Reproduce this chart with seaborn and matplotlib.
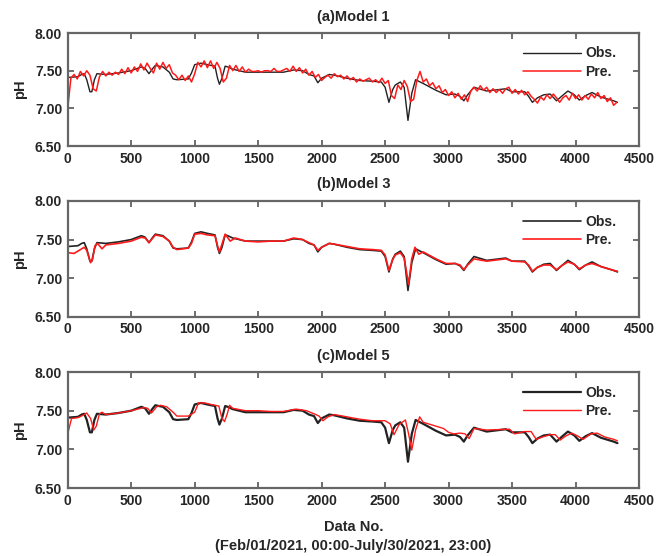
import numpy as np
import pandas as pd
import seaborn as sns
import matplotlib.pyplot as plt
from matplotlib.ticker import FormatStrFormatter

obs_x = [0, 80, 110, 130, 150, 175, 190, 210, 230, 300, 400, 500, 580, 610, 640,
         670, 690, 750, 800, 830, 860, 950, 975, 1000, 1050, 1100, 1160, 1180, 1195, 1215,
         1240, 1260, 1300, 1400, 1500, 1600, 1700, 1780, 1850, 1900, 1940, 1970, 2000, 2060, 2100,
         2200, 2300, 2400, 2470, 2500, 2530, 2560, 2580, 2620, 2650, 2680, 2710, 2740, 2800, 2900,
         2980, 3050, 3090, 3120, 3150, 3200, 3300, 3450, 3500, 3600, 3630, 3660, 3700, 3750, 3800,
         3850, 3890, 3940, 3990, 4030, 4080, 4130, 4200, 4300, 4330]
obs_y = [7.41, 7.42, 7.45, 7.46, 7.38, 7.22, 7.22, 7.38, 7.46, 7.45, 7.47, 7.50, 7.55, 7.53, 7.46,
         7.53, 7.57, 7.55, 7.48, 7.39, 7.38, 7.39, 7.47, 7.58, 7.60, 7.58, 7.56, 7.40, 7.32, 7.40,
         7.56, 7.55, 7.52, 7.48, 7.48, 7.48, 7.48, 7.51, 7.50, 7.45, 7.43, 7.34, 7.40, 7.45, 7.44,
         7.40, 7.37, 7.36, 7.35, 7.28, 7.08, 7.25, 7.31, 7.35, 7.28, 6.84, 7.20, 7.38, 7.33, 7.24,
         7.18, 7.19, 7.16, 7.10, 7.18, 7.28, 7.23, 7.26, 7.22, 7.22, 7.16, 7.08, 7.14, 7.18, 7.19,
         7.10, 7.16, 7.23, 7.18, 7.11, 7.17, 7.21, 7.15, 7.10, 7.08]

# model 1 prediction, one value every 25 data points (noisy)
pre1_x = np.arange(0, 4350, 25)
pre1_y = [7.00, 7.40, 7.45, 7.39, 7.49, 7.43, 7.50, 7.44, 7.26, 7.23,
          7.42, 7.49, 7.43, 7.48, 7.44, 7.48, 7.45, 7.52, 7.46, 7.54,
          7.47, 7.55, 7.49, 7.59, 7.51, 7.60, 7.53, 7.47, 7.60, 7.52,
          7.61, 7.53, 7.58, 7.47, 7.44, 7.38, 7.44, 7.37, 7.43, 7.35,
          7.46, 7.61, 7.55, 7.63, 7.54, 7.63, 7.53, 7.61, 7.53, 7.35,
          7.40, 7.57, 7.50, 7.57, 7.49, 7.55, 7.48, 7.52, 7.49, 7.49,
          7.50, 7.48, 7.50, 7.50, 7.49, 7.53, 7.49, 7.49, 7.51, 7.53,
          7.49, 7.56, 7.49, 7.54, 7.47, 7.52, 7.44, 7.49, 7.41, 7.45,
          7.37, 7.41, 7.44, 7.40, 7.46, 7.42, 7.44, 7.39, 7.43, 7.38,
          7.41, 7.35, 7.39, 7.36, 7.38, 7.40, 7.35, 7.38, 7.34, 7.40,
          7.33, 7.37, 7.17, 7.13, 7.31, 7.25, 7.37, 7.29, 7.09, 7.12,
          7.37, 7.49, 7.35, 7.39, 7.30, 7.34, 7.26, 7.30, 7.21, 7.25,
          7.17, 7.22, 7.14, 7.20, 7.12, 7.18, 7.09, 7.23, 7.28, 7.23,
          7.30, 7.24, 7.28, 7.21, 7.26, 7.21, 7.25, 7.20, 7.26, 7.28,
          7.20, 7.25, 7.19, 7.24, 7.18, 7.22, 7.16, 7.12, 7.07, 7.15,
          7.11, 7.18, 7.13, 7.19, 7.14, 7.08, 7.14, 7.17, 7.11, 7.20,
          7.13, 7.18, 7.11, 7.17, 7.12, 7.19, 7.14, 7.21, 7.13, 7.17,
          7.09, 7.14, 7.04, 7.08]

# model 3 prediction
pre3_x = [0, 50, 100, 130, 150, 180, 195, 215, 235, 270, 300, 400, 500, 580, 610,
          640, 670, 690, 750, 800, 830, 860, 950, 975, 1000, 1050, 1100, 1160, 1180, 1195,
          1215, 1240, 1280, 1320, 1400, 1500, 1600, 1700, 1780, 1850, 1900, 1940, 1970, 2000, 2060,
          2100, 2200, 2300, 2400, 2470, 2500, 2530, 2560, 2580, 2620, 2650, 2685, 2710, 2735, 2765,
          2800, 2900, 2980, 3050, 3090, 3120, 3150, 3200, 3300, 3450, 3500, 3600, 3630, 3660, 3700,
          3750, 3800, 3850, 3890, 3940, 3990, 4030, 4080, 4130, 4200, 4300, 4330]
pre3_y = [7.33, 7.32, 7.37, 7.40, 7.36, 7.20, 7.24, 7.42, 7.45, 7.38, 7.43, 7.45, 7.48, 7.53, 7.52,
          7.46, 7.52, 7.56, 7.54, 7.48, 7.40, 7.37, 7.39, 7.45, 7.57, 7.58, 7.56, 7.55, 7.42, 7.34,
          7.44, 7.57, 7.48, 7.52, 7.48, 7.47, 7.48, 7.48, 7.52, 7.50, 7.46, 7.43, 7.36, 7.40, 7.45,
          7.44, 7.41, 7.38, 7.37, 7.36, 7.30, 7.10, 7.24, 7.30, 7.33, 7.26, 6.92, 7.25, 7.40, 7.31,
          7.34, 7.25, 7.19, 7.19, 7.17, 7.11, 7.17, 7.25, 7.22, 7.25, 7.22, 7.21, 7.17, 7.09, 7.14,
          7.17, 7.17, 7.11, 7.16, 7.21, 7.18, 7.12, 7.17, 7.19, 7.15, 7.10, 7.09]

# model 5 prediction (lags the observation)
pre5_x = [0, 30, 80, 120, 150, 180, 205, 225, 250, 270, 300, 400, 500, 600, 630,
          660, 700, 730, 780, 830, 860, 950, 1000, 1030, 1080, 1130, 1190, 1215, 1235, 1255,
          1275, 1300, 1400, 1500, 1600, 1700, 1800, 1880, 1940, 1980, 2010, 2050, 2100, 2200, 2300,
          2400, 2500, 2540, 2570, 2610, 2660, 2685, 2710, 2740, 2772, 2800, 2900, 2960, 3000, 3040,
          3090, 3130, 3162, 3200, 3300, 3480, 3520, 3600, 3650, 3690, 3740, 3800, 3840, 3880, 3920,
          3970, 4020, 4060, 4120, 4170, 4230, 4300, 4330]
pre5_y = [7.20, 7.40, 7.41, 7.44, 7.47, 7.40, 7.25, 7.30, 7.46, 7.48, 7.45, 7.47, 7.50, 7.54, 7.53,
          7.47, 7.55, 7.57, 7.55, 7.48, 7.43, 7.43, 7.48, 7.60, 7.60, 7.58, 7.56, 7.40, 7.36, 7.45,
          7.57, 7.53, 7.50, 7.50, 7.49, 7.49, 7.52, 7.50, 7.46, 7.43, 7.37, 7.42, 7.45, 7.42, 7.39,
          7.37, 7.37, 7.33, 7.19, 7.32, 7.38, 7.20, 6.99, 7.25, 7.42, 7.35, 7.30, 7.27, 7.22, 7.20,
          7.21, 7.20, 7.14, 7.27, 7.25, 7.26, 7.20, 7.23, 7.23, 7.13, 7.16, 7.19, 7.19, 7.12, 7.17,
          7.21, 7.17, 7.13, 7.20, 7.21, 7.16, 7.13, 7.11]

titles = ['(a)Model 1', '(b)Model 3', '(c)Model 5']
preds = [(pre1_x, pre1_y), (pre3_x, pre3_y), (pre5_x, pre5_y)]

sns.set_style('ticks')
plt.rcParams['font.family'] = ['Liberation Sans', 'DejaVu Sans']
plt.rcParams['font.weight'] = 'bold'
plt.rcParams['axes.labelweight'] = 'bold'
plt.rcParams['axes.titleweight'] = 'bold'

fig = plt.figure(figsize=(6.62, 5.56), dpi=100)
boxes = [[0.1023, 0.7374, 0.863, 0.2032],
         [0.1023, 0.4304, 0.863, 0.2081],
         [0.1023, 0.1223, 0.863, 0.2086]]
obs_lw = [1.0, 1.2, 1.6]
pre_lw = [1.1, 1.2, 1.0]

for i in range(3):
    ax = fig.add_axes(boxes[i])
    sns.lineplot(x=obs_x, y=obs_y, ax=ax, color='#222222', lw=obs_lw[i], label='Obs.')
    px, py = preds[i]
    sns.lineplot(x=px, y=py, ax=ax, color='#ff1a1a', lw=pre_lw[i], label='Pre.')
    ax.set_xlim(0, 4500)
    ax.set_ylim(6.5, 8.0)
    ax.set_xticks(range(0, 4501, 500))
    ax.set_yticks([6.5, 7.0, 7.5, 8.0])
    ax.yaxis.set_major_formatter(FormatStrFormatter('%.2f'))
    ax.tick_params(direction='in', top=True, right=True, length=4, width=1.2,
                   color='#555555', labelsize=10, pad=4)
    for lab in ax.get_xticklabels() + ax.get_yticklabels():
        lab.set_fontweight('bold')
    for s in ax.spines.values():
        s.set_color('#666666')
        s.set_linewidth(1.6)
    ax.set_title(titles[i], fontsize=10.5, fontweight='bold', pad=9)
    ax.set_ylabel('pH', fontsize=10.5, fontweight='bold', labelpad=6)
    ax.set_xlabel('')
    ax.legend(loc='upper right', bbox_to_anchor=(0.975, 0.955), frameon=False,
              handlelength=4.2, handletextpad=0.3, labelspacing=0.3,
              prop={'size': 10, 'weight': 'bold'}, borderaxespad=0.2)
    if i == 2:
        ax.set_xlabel('Data No.', fontsize=10.5, fontweight='bold', labelpad=9)

fig.text(0.533, 1 - 546 / 556, '(Feb/01/2021, 00:00-July/30/2021, 23:00)',
         ha='center', va='center', fontsize=10.5, fontweight='bold')

fig.savefig('out.png', dpi=100)
